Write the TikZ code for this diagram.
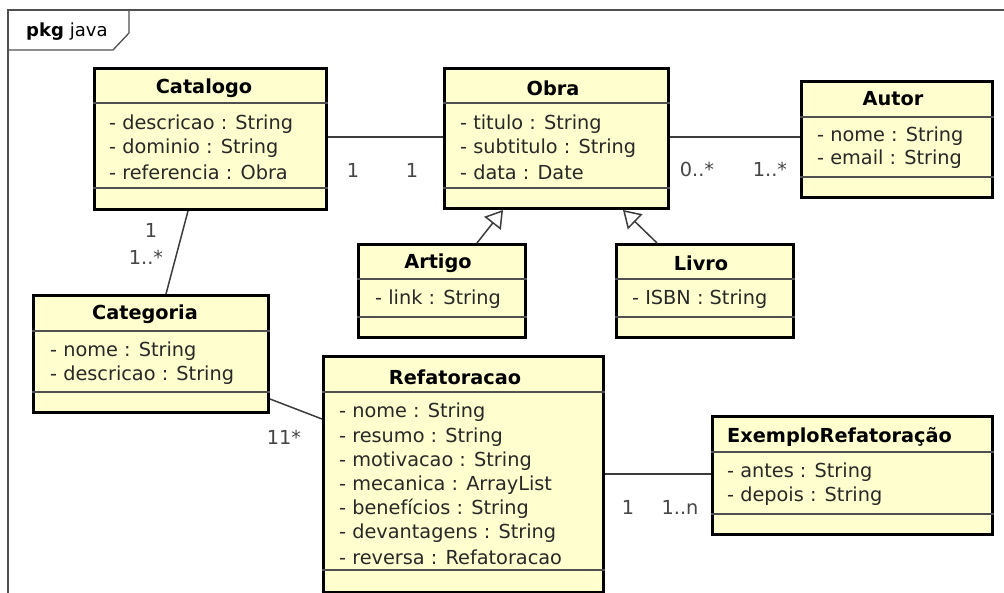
\documentclass[tikz,border=0pt]{standalone}
\usepackage{fontspec}
\setmainfont{DejaVu Sans}
\usetikzlibrary{arrows.meta,calc}
\definecolor{boxfill}{RGB}{254,254,206}
\definecolor{linegray}{RGB}{60,60,60}
\definecolor{sepgray}{RGB}{80,80,80}
\definecolor{txt}{RGB}{40,40,40}
\definecolor{lbl}{RGB}{70,70,70}
\begin{document}
\begin{tikzpicture}[x=1pt,y=-1pt,
  classbox/.style={draw=black, line width=3pt, fill=boxfill, inner sep=0pt, anchor=north west},
  sep/.style={draw=sepgray, line width=1.2pt},
  title/.style={font=\fontsize{19.3pt}{24pt}\selectfont\bfseries, text=black, inner sep=0pt},
  attr/.style={font=\fontsize{19.3pt}{24pt}\selectfont, text=txt, inner sep=0pt, anchor=west},
  mult/.style={font=\fontsize{19.3pt}{24pt}\selectfont, text=lbl, inner sep=0pt},
  assoc/.style={draw=linegray, line width=1.5pt},
  gen/.style={draw=linegray, line width=1.5pt, -{Triangle[open, length=17pt, width=21pt, fill=white]}},
  frame/.style={draw=sepgray, line width=1.3pt}
]
\useasboundingbox (0,0) rectangle (1004,593);
\fill[white] (0,0) rectangle (1004,593);

% package frame
\draw[frame] (8,593) -- (8,10) -- (1004,10);
\draw[frame] (8,50) -- (113,50) -- (129,33) -- (129,10);
\node[inner sep=0pt, anchor=west] (pkg) at (26,32) {\fontsize{18pt}{20pt}\selectfont\textbf{pkg}\hspace{6pt}java};

% Catalogo
\node[classbox, minimum width=232pt, minimum height=141pt] (cat) at (93,67) {};
\draw[sep] (cat.west |- 0,103) -- (cat.east |- 0,103);
\draw[sep] (cat.west |- 0,188) -- (cat.east |- 0,188);
\node[title] (catT) at (204,88) {Catalogo};
\node[attr] (cat1) at (109,124) {- descricao : String};
\node[attr] (cat2) at (109,148) {- dominio : String};
\node[attr] (cat3) at (109,172) {- referencia : Obra};

% Obra
\node[classbox, minimum width=224pt, minimum height=140pt] (obra) at (443,67) {};
\draw[sep] (obra.west |- 0,103) -- (obra.east |- 0,103);
\draw[sep] (obra.west |- 0,188) -- (obra.east |- 0,188);
\node[title] (obraT) at (553,88) {Obra};
\node[attr] (obra1) at (460,124) {- titulo : String};
\node[attr] (obra2) at (460,148) {- subtitulo : String};
\node[attr] (obra3) at (460,172) {- data : Date};

% Autor
\node[classbox, minimum width=191pt, minimum height=116pt] (autor) at (800,80) {};
\draw[sep] (autor.west |- 0,117) -- (autor.east |- 0,117);
\draw[sep] (autor.west |- 0,177) -- (autor.east |- 0,177);
\node[title] (autorT) at (893,99) {Autor};
\node[attr] (autor1) at (817,136) {- nome : String};
\node[attr] (autor2) at (817,159) {- email : String};

% Artigo
\node[classbox, minimum width=167pt, minimum height=93pt] (artigo) at (357,243) {};
\draw[sep] (artigo.west |- 0,279) -- (artigo.east |- 0,279);
\draw[sep] (artigo.west |- 0,317) -- (artigo.east |- 0,317);
\node[title] (artigoT) at (438,263) {Artigo};
\node[attr] (artigo1) at (375,299) {- link : String};

% Livro
\node[classbox, minimum width=177pt, minimum height=93pt] (livro) at (615,243) {};
\draw[sep] (livro.west |- 0,279) -- (livro.east |- 0,279);
\draw[sep] (livro.west |- 0,317) -- (livro.east |- 0,317);
\node[title] (livroT) at (701,263) {Livro};
\node[attr] (livro1) at (632,299) {- ISBN : String};

% Categoria
\node[classbox, minimum width=235pt, minimum height=117pt] (categ) at (32,294) {};
\draw[sep] (categ.west |- 0,331) -- (categ.east |- 0,331);
\draw[sep] (categ.west |- 0,392) -- (categ.east |- 0,392);
\node[title] (categT) at (145,314) {Categoria};
\node[attr] (categ1) at (50,351) {- nome : String};
\node[attr] (categ2) at (50,375) {- descricao : String};

% Refatoracao
\node[classbox, minimum width=280pt, minimum height=236pt] (ref) at (322,355) {};
\draw[sep] (ref.west |- 0,392) -- (ref.east |- 0,392);
\draw[sep] (ref.west |- 0,570) -- (ref.east |- 0,570);
\node[title] (refT) at (455,377) {Refatoracao};
\node[attr] (ref1) at (339,412) {- nome : String};
\node[attr] (ref2) at (339,437) {- resumo : String};
\node[attr] (ref3) at (339,461) {- motivacao : String};
\node[attr] (ref4) at (339,485) {- mecanica : ArrayList};
\node[attr] (ref5) at (339,509) {- benefícios : String};
\node[attr] (ref6) at (339,533) {- devantagens : String};
\node[attr] (ref7) at (339,557) {- reversa : Refatoracao};

% ExemploRefatoracao
\node[classbox, minimum width=280pt, minimum height=118pt] (ex) at (711,415) {};
\draw[sep] (ex.west |- 0,452) -- (ex.east |- 0,452);
\draw[sep] (ex.west |- 0,514) -- (ex.east |- 0,514);
\node[title, anchor=west] (exT) at (727,437) {ExemploRefatoração};
\node[attr] (ex1) at (727,472) {- antes : String};
\node[attr] (ex2) at (727,496) {- depois : String};

% associations
\draw[assoc] (cat.east |- 0,137) -- (obra.west |- 0,137);
\node[mult] (m1) at (353,170) {1};
\node[mult] (m2) at (412,170) {1};

\draw[assoc] (obra.east |- 0,137) -- (autor.west |- 0,137);
\node[mult] (m3) at (697,169) {0..*};
\node[mult] (m4) at (770,169) {1..*};

\draw[assoc] (cat.south -| 188,0) -- (categ.north -| 166,0);
\node[mult] (m5) at (151,230) {1};
\node[mult] (m6) at (146,257) {1..*};

\draw[assoc] (categ.east |- 0,399) -- (ref.west |- 0,419);
\node[mult] (m7) at (284,437) {11*};

\draw[assoc] (ref.east |- 0,474) -- (ex.west |- 0,474);
\node[mult] (m8) at (628,507) {1};
\node[mult] (m9) at (680,507) {1..n};

% generalizations
\draw[gen] (artigo.north -| 477,0) -- (obra.south -| 503,0);
\draw[gen] (livro.north -| 657,0) -- (obra.south -| 623,0);
\end{tikzpicture}
\end{document}
